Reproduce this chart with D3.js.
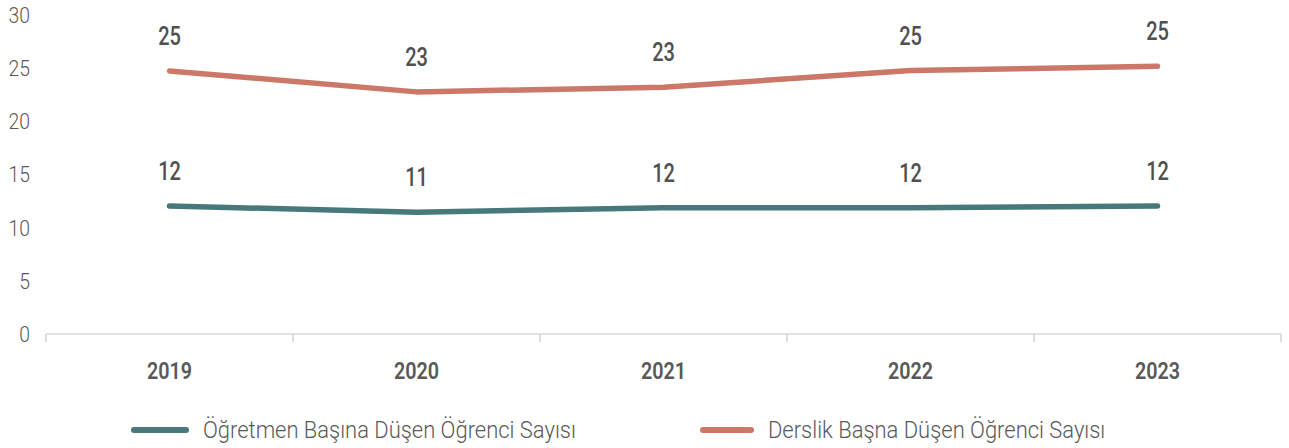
<!DOCTYPE html>
<html><head><meta charset="utf-8">
<script src="https://cdn.jsdelivr.net/npm/d3@7"></script>
<style>body{margin:0;background:#fff}svg{display:block}text{font-family:Roboto,"Noto Sans",sans-serif}</style>
</head><body>
<svg id="c" width="1289" height="448"></svg>
<script>
const years = ["2019","2020","2021","2022","2023"];
const teacherValues = [12.04, 11.45, 11.88, 11.88, 12.04];
const classroomValues = [24.74, 22.77, 23.21, 24.77, 25.18];
const yTicks = [0,5,10,15,20,25,30];
const seriesNames = ["Öğretmen Başına Düşen Öğrenci Sayısı","Derslik Başna Düşen Öğrenci Sayısı"];
const colors = ["#47797A","#CB7868"];

const svg = d3.select("#c");
const x = d3.scaleBand().domain(years).range([46,1281]);
const y = d3.scaleLinear().domain([0,30]).range([334,15]);
const cx = d => x(d) + x.bandwidth()/2;
// condensed text: scale horizontally around anchor x
function squeeze(sel, fx, k){
  sel.attr("transform",(d,i)=>{const a=fx(d,i);return `translate(${a},0) scale(${k},1) translate(${-a},0)`;});
}

// y labels
svg.append("g").selectAll("text").data(yTicks).join("text")
  .attr("x",30).attr("y",d=>y(d)).attr("dy","0.36em").attr("text-anchor","end")
  .attr("font-size",22).attr("font-weight",300).attr("fill","#595959").text(d=>d)
  .call(squeeze,()=>30,0.88);

// x axis
const xa = svg.append("g").attr("transform","translate(0,334)");
xa.append("line").attr("x1",46).attr("x2",1281).attr("stroke","#c8c8c8").attr("stroke-width",1.2);
const bounds = years.map(d=>x(d)).concat([x.range()[1]]);
xa.selectAll("line.t").data(bounds).join("line").attr("class","t")
  .attr("x1",d=>d).attr("x2",d=>d).attr("y1",0).attr("y2",8).attr("stroke","#c8c8c8").attr("stroke-width",1.2);
svg.append("g").selectAll("text").data(years).join("text")
  .attr("x",cx).attr("y",379).attr("text-anchor","middle")
  .attr("font-size",23.5).attr("font-weight",600).attr("fill","#595959")
  .text(d=>d).call(squeeze,cx,0.84);

const line = d3.line().x((d,i)=>cx(years[i])).y(d=>y(d));
[teacherValues, classroomValues].forEach((vals,k)=>{
  svg.append("path").datum(vals).attr("d",line).attr("fill","none")
    .attr("stroke",colors[k]).attr("stroke-width",5.5).attr("stroke-linecap","round").attr("stroke-linejoin","round");
  svg.append("g").selectAll("text").data(vals).join("text")
    .attr("x",(d,i)=>cx(years[i])).attr("y",d=>y(d)-26)
    .attr("text-anchor","middle").attr("font-size",25).attr("font-weight",500).attr("fill","#505050")
    .text(d=>Math.round(d)).call(squeeze,(d,i)=>cx(years[i]),0.8);
});

// legend
const leg = [{x1:134,x2:186,tx:203},{x1:703,x2:751,tx:768}];
leg.forEach((l,k)=>{
  svg.append("line").attr("x1",l.x1).attr("x2",l.x2).attr("y1",430).attr("y2",430)
    .attr("stroke",colors[k]).attr("stroke-width",6).attr("stroke-linecap","round");
  svg.append("text").datum(0).attr("x",l.tx).attr("y",430).attr("dy","0.36em")
    .attr("font-size",23).attr("font-weight",300).attr("fill","#595959").text(seriesNames[k])
    .call(squeeze,()=>l.tx,0.955);
});
</script>
</body></html>
